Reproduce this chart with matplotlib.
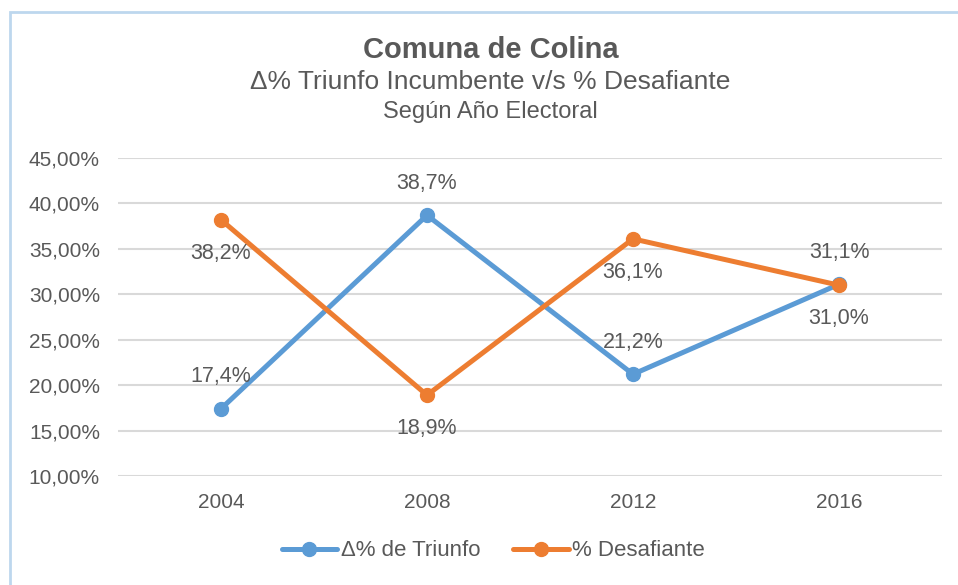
import matplotlib.pyplot as plt
from matplotlib.patches import Rectangle

years = ["2004", "2008", "2012", "2016"]
triunfo = [17.4, 38.7, 21.2, 31.1]
desafiante = [38.2, 18.9, 36.1, 31.0]
yticks = [10, 15, 20, 25, 30, 35, 40, 45]

plt.rcParams['font.family'] = ['Liberation Sans', 'DejaVu Sans']
txt = "#595959"
blue = "#5B9BD5"
orange = "#ED7D31"

fig = plt.figure(figsize=(9.58, 5.85), dpi=100)
ax = fig.add_axes([118 / 958, 1 - 476 / 585, 824 / 958, 318 / 585])

x = range(len(years))
ax.plot(x, triunfo, color=blue, lw=3.6, marker="o", ms=10, label="Δ% de Triunfo",
        solid_capstyle="round", zorder=3)
ax.plot(x, desafiante, color=orange, lw=3.6, marker="o", ms=10, label="% Desafiante",
        solid_capstyle="round", zorder=3)

def fmt(v):
    return ("%.1f%%" % v).replace(".", ",")

for i in x:
    ax.annotate(fmt(triunfo[i]), (i, triunfo[i]), xytext=(0, 23), textcoords="offset points",
                ha="center", va="center", fontsize=15.5, color=txt)
    ax.annotate(fmt(desafiante[i]), (i, desafiante[i]), xytext=(0, -24), textcoords="offset points",
                ha="center", va="center", fontsize=15.5, color=txt)

ax.set_xlim(-0.5, 3.5)
ax.set_ylim(10, 45)
ax.set_yticks(yticks)
ax.set_yticklabels([("%.2f%%" % v).replace(".", ",") for v in yticks])
ax.set_xticks(list(x))
ax.set_xticklabels(years)
ax.tick_params(length=0, labelsize=15, colors=txt, pad=12)
ax.tick_params(axis="y", pad=13)
ax.grid(axis="y", color="#D9D9D9", lw=1.5)
ax.set_axisbelow(True)
for s in ax.spines.values():
    s.set_visible(False)

fig.text(0.512, 1 - 50 / 585, "Comuna de Colina", ha="center", va="center",
         fontsize=21, fontweight="bold", color=txt)
fig.text(0.512, 1 - 82 / 585, "Δ% Triunfo Incumbente v/s % Desafiante", ha="center", va="center",
         fontsize=19, color=txt)
fig.text(0.512, 1 - 112 / 585, "Según Año Electoral", ha="center", va="center",
         fontsize=17, color=txt)

fig.legend(loc="center", bbox_to_anchor=(0.515, 1 - 551 / 585), ncol=2, frameon=False,
           fontsize=16, labelcolor=txt, handlelength=2.5, handletextpad=0.15, columnspacing=1.5)

fig.add_artist(Rectangle((10 / 958, -0.1), 1.2, 1 - 12 / 585 + 0.1, transform=fig.transFigure,
                         fill=False, edgecolor="#BDD7EE", lw=2))

fig.savefig("out.png", dpi=100)
